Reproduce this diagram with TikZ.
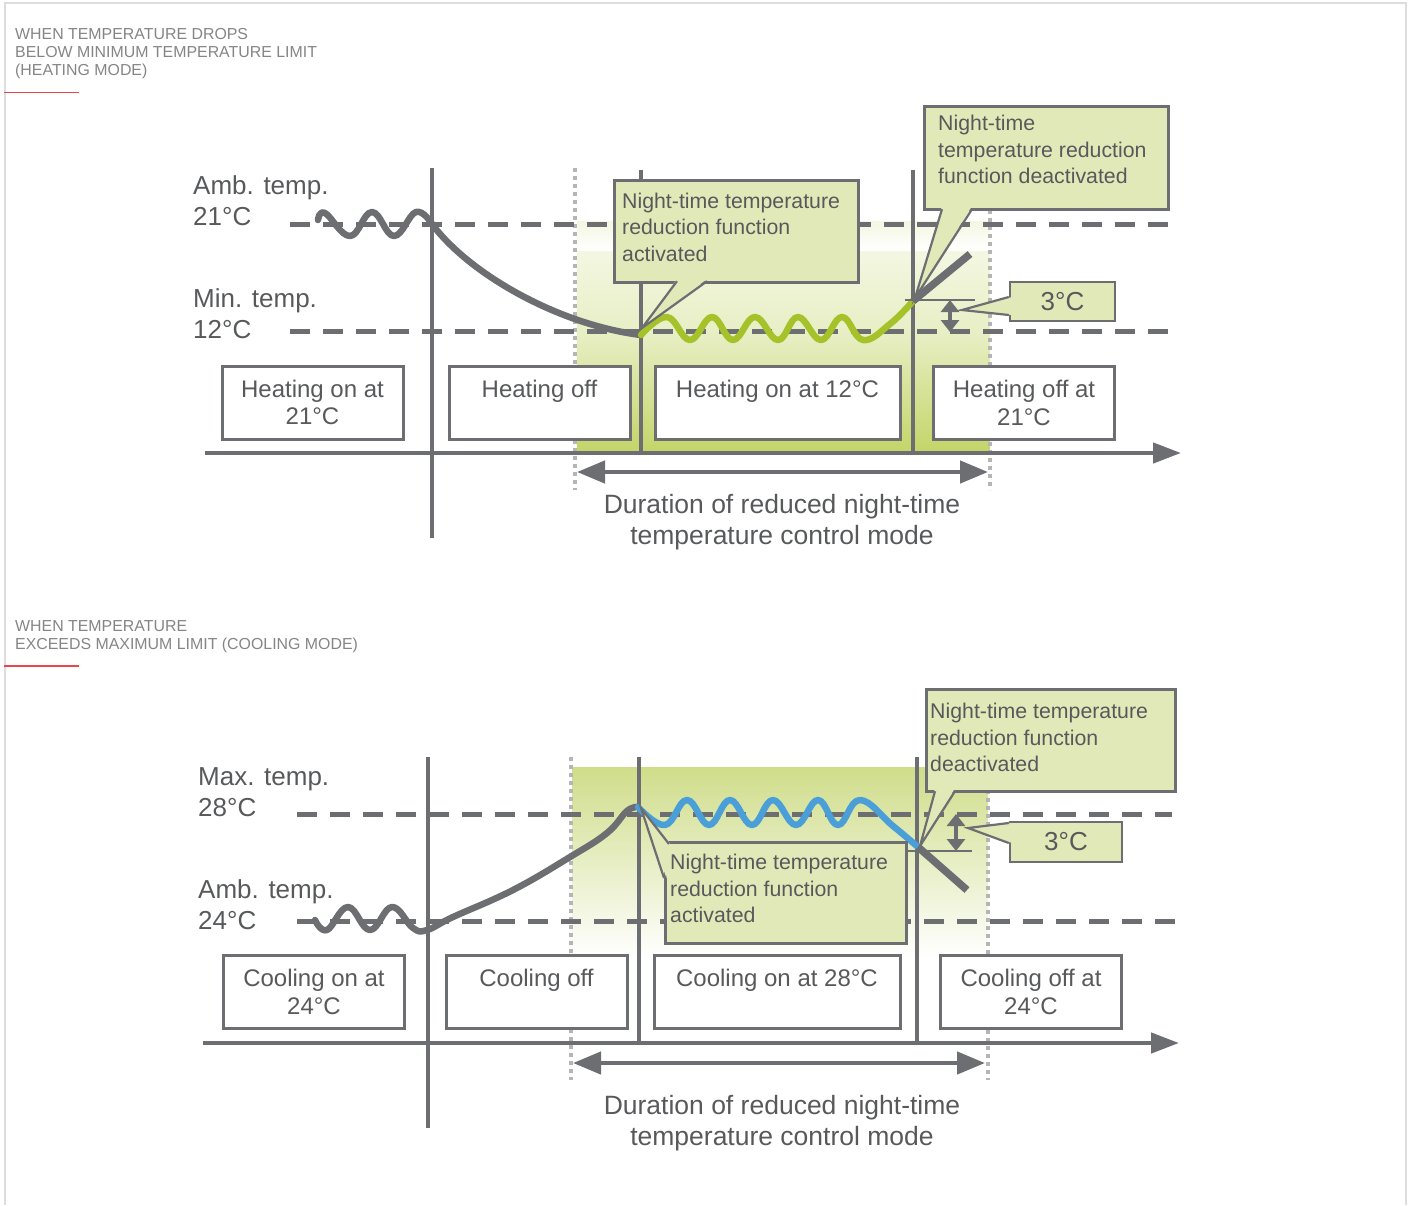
\documentclass[tikz,border=0pt]{standalone}
\usepackage{fontspec}
\setmainfont{Liberation Sans}
\usetikzlibrary{arrows.meta}
\definecolor{ln}{HTML}{6D6E71}
\definecolor{tx}{HTML}{58595B}
\definecolor{hd}{HTML}{858585}
\definecolor{cf}{HTML}{E2E9B9}
\definecolor{gw}{HTML}{A6C22A}
\definecolor{bw}{HTML}{4A9FD8}
\definecolor{sg}{HTML}{C4D56A}
\definecolor{sgt}{HTML}{CFDD8A}
\definecolor{dt}{HTML}{B5B5B5}
\definecolor{rd}{HTML}{E8474C}
\definecolor{bd}{HTML}{DDDDDD}
\begin{document}
\begin{tikzpicture}[x=1pt,y=-1pt,
  box/.style={draw=ln, line width=3pt, fill=white, minimum width=181pt, minimum height=73pt, align=center, font=\fontsize{24}{28}\selectfont, text=tx, inner sep=0pt},
  callbox/.style={draw=ln, line width=2.5pt, fill=cf, anchor=north west, inner sep=0pt},
  calltext/.style={anchor=north west, align=left, font=\fontsize{21.3}{26.5}\selectfont, text=tx, inner sep=0pt},
  ylab/.style={anchor=north west, align=left, font=\fontsize{26}{31}\selectfont, text=tx, inner sep=0pt},
  hdr/.style={anchor=north west, align=left, font=\fontsize{15.9}{18}\selectfont, text=hd, inner sep=0pt},
  dur/.style={anchor=north, align=center, font=\fontsize{26.5}{31}\selectfont, text=tx, inner sep=0pt},
  degbox/.style={draw=ln, line width=2.5pt, fill=cf, minimum width=105pt, minimum height=39pt, font=\fontsize{26}{30}\selectfont, text=tx, inner sep=0pt},
  dashln/.style={draw=ln, line width=5pt, dash pattern=on 20pt off 13pt},
  dotln/.style={draw=dt, line width=4pt, dash pattern=on 4pt off 4pt},
  axisln/.style={draw=ln, line width=4.8pt},
  curve/.style={line width=6.5pt, line cap=round, line join=round},
  ptr/.style={draw=ln, line width=2.2pt, line join=miter},
  meas/.style={draw=ln, line width=2.2pt},
  dbl/.style={draw=ln, line width=3.5pt, {Triangle[length=12pt,width=18pt]}-{Triangle[length=12pt,width=18pt]}},
  bigarr/.style={draw=ln, line width=4.5pt, {Triangle[length=28pt,width=22pt]}-{Triangle[length=28pt,width=22pt]}},
  axarr/.style={draw=ln, line width=4.5pt, -{Triangle[length=28pt,width=20pt]}}
]
\useasboundingbox (0,0) rectangle (1411,1205);
% frame
\draw[bd, line width=2.5pt] (5,1205) -- (5,3) -- (1406,3) -- (1406,1205);
% headers
\node[hdr] (h1) at (15,28) {WHEN TEMPERATURE DROPS\\BELOW MINIMUM TEMPERATURE LIMIT\\(HEATING MODE)};
\draw[rd, line width=1.8pt] (4,92.5) -- (79,92.5);
\node[hdr] (h2) at (15,620.5) {WHEN TEMPERATURE\\EXCEEDS MAXIMUM LIMIT (COOLING MODE)};
\draw[rd, line width=1.8pt] (4,666) -- (79,666);

%================ TOP DIAGRAM =================
\shade[top color=white!88!sg, bottom color=sg, middle color=white!60!sg] (577,221) rectangle (990,450);
\shade[top color=white!80!sg, bottom color=white] (577,221) rectangle (990,250);
\draw[dotln] (575,168) -- (575,490);
\draw[dotln] (990,210) -- (990,490);
\draw[dashln] (290,224) -- (1172,224);
\draw[dashln] (290,331) -- (1172,331);
\coordinate (yt1) at (432,168);
\coordinate (yb1) at (432,538);
\draw[axisln] (yt1) -- (yb1);
\coordinate (xl1) at (205,453);
\coordinate (xr1) at (1181,453);
\draw[axarr] (xl1) -- (xr1);
\draw[axisln] (641,170) -- (641,451);
\draw[axisln] (913,170) -- (913,451);
\node[ylab] (amb1) at (193,175) {Amb. temp.\\21°C};
\node[ylab] (min1) at (193,288) {Min. temp.\\12°C};
% curves
\draw[ln, curve] plot[smooth, tension=0.7] coordinates {(318,220) (325,213) (350,236) (372,212) (394,236) (416,212) (432,224)};
\draw[ln, curve] (432,224) .. controls (470,275) and (560,325) .. (641,335);
\draw[gw, curve] plot[smooth, tension=0.7] coordinates {(641,335) (667,317) (690,340) (712,317) (733,340) (755,317) (778,340) (798,317) (821,340) (842,317) (863,340) (890,324) (913,301)};
\draw[ln, line width=7.5pt] (913,301) -- (970,254);
% 3C measure
\coordinate (m1a) at (905,300);
\coordinate (m1b) at (975,300);
\draw[meas] (m1a) -- (m1b);
\coordinate (d1a) at (950,300);
\coordinate (d1b) at (950,332);
\draw[dbl] (d1a) -- (d1b);
% boxes
\node[box] (b11) at (312.5,402.5) {Heating on at\\[-1pt]21°C};
\node[box] (b12) at (539.5,402.5) {Heating off\\~};
\node[box, minimum width=245pt] (b13) at (777.5,402.5) {Heating on at 12°C\\~};
\node[box] (b14) at (1024,402.5) {Heating off at\\21°C};
% duration
\coordinate (da1) at (577,472);
\coordinate (db1) at (988,472);
\draw[bigarr] (da1) -- (db1);
\node[dur] (dur1) at (782,494) {Duration of reduced night-time\\temperature control mode};
% callout activated
\node[callbox, minimum width=244pt, minimum height=102pt] (ca1) at (613,179) {};
\node[calltext] (ca1t) at (622,192.5) {Night-time temperature\\reduction function\\activated};
\coordinate (ca1tip) at (642,328);
\fill[cf] (677,279) -- (ca1tip) -- (707,279) -- cycle;
\draw[ptr] (677,281.2) -- (ca1tip) -- (707,281.2);
% callout deactivated
\node[callbox, minimum width=244pt, minimum height=103pt] (cd1) at (923,105) {};
\node[calltext] (cd1t) at (938,115) {Night-time\\temperature reduction\\function deactivated};
\coordinate (cd1tip) at (915,298);
\fill[cf] (942,206) -- (cd1tip) -- (972,206) -- cycle;
\draw[ptr] (942,209.2) -- (cd1tip) -- (972,209.2);
% 3C box
\node[degbox] (t31) at (1062.5,301.5) {3°C};
\coordinate (t31tip) at (962,310);
\fill[cf] (1012,297) -- (t31tip) -- (1012,315) -- cycle;
\draw[ptr] (1008.8,297) -- (t31tip) -- (1008.8,315);

%================ BOTTOM DIAGRAM =================
\shade[top color=sgt, bottom color=white] (572,767) rectangle (988,958);
\draw[dotln] (571,757) -- (571,1080);
\draw[dotln] (988,790) -- (988,1080);
\draw[dashln] (297,814) -- (1172,814);
\draw[dashln] (297,921) -- (1178,921);
\coordinate (yt2) at (428,757);
\coordinate (yb2) at (428,1128);
\draw[axisln] (yt2) -- (yb2);
\coordinate (xl2) at (203,1043);
\coordinate (xr2) at (1179,1043);
\draw[axarr] (xl2) -- (xr2);
\draw[axisln] (639,757) -- (639,1041);
\draw[axisln] (917,757) -- (917,1041);
\node[ylab] (max2) at (198,767) {Max. temp.\\28°C};
\node[ylab] (amb2) at (198,879) {Amb. temp.\\24°C};
% curves
\draw[ln, curve] plot[smooth, tension=0.7] coordinates {(315,920) (327,930) (348,907) (370,930) (392,907) (413,928) (427,930) (453,917) (513,890) (570,857) (607,833) (627,811) (638,807)};
\draw[bw, curve] plot[smooth, tension=0.7] coordinates {(638,807) (665,825) (687,800) (709,825) (730,800) (752,825) (773,800) (796,825) (818,800) (838,825) (860,800) (893,826) (918,847)};
\draw[ln, line width=7.5pt] (918,847) -- (967,890);
% 3C measure
\coordinate (m2a) at (907,851);
\coordinate (m2b) at (972,851);
\draw[meas] (m2a) -- (m2b);
\coordinate (d2a) at (956,814);
\coordinate (d2b) at (956,851);
\draw[dbl] (d2a) -- (d2b);
% boxes
\node[box] (b21) at (314,992) {Cooling on at\\24°C};
\node[box] (b22) at (536.5,992) {Cooling off\\~};
\node[box, minimum width=246pt] (b23) at (777,992) {Cooling on at 28°C\\~};
\node[box] (b24) at (1031,992) {Cooling off at\\24°C};
% duration
\coordinate (da2) at (573,1063);
\coordinate (db2) at (985,1063);
\draw[bigarr] (da2) -- (db2);
\node[dur] (dur2) at (782,1095) {Duration of reduced night-time\\temperature control mode};
% callout activated (bottom)
\node[callbox, minimum width=241pt, minimum height=101pt] (ca2) at (664,841) {};
\node[calltext] (ca2t) at (670,854) {Night-time temperature\\reduction function\\activated};
\coordinate (ca2tip) at (641,808);
\fill[cf] (670,843.5) -- (ca2tip) -- (666.5,878) -- cycle;
\draw[ptr] (669,844) -- (ca2tip) -- (664,878);
% callout deactivated (bottom)
\node[callbox, minimum width=249pt, minimum height=102pt] (cd2) at (925,688) {};
\node[calltext] (cd2t) at (930,703) {Night-time temperature\\reduction function\\deactivated};
\coordinate (cd2tip) at (920,846);
\fill[cf] (935,788) -- (cd2tip) -- (955,788) -- cycle;
\draw[ptr] (935,791.2) -- (cd2tip) -- (955,791.2);
% 3C box
\node[degbox, minimum width=112pt, minimum height=40pt] (t32) at (1066,842) {3°C};
\coordinate (t32tip) at (968,828);
\fill[cf] (1012,823) -- (t32tip) -- (1012,843) -- cycle;
\draw[ptr] (1008.8,823) -- (t32tip) -- (1008.8,843);
\end{tikzpicture}
\end{document}
